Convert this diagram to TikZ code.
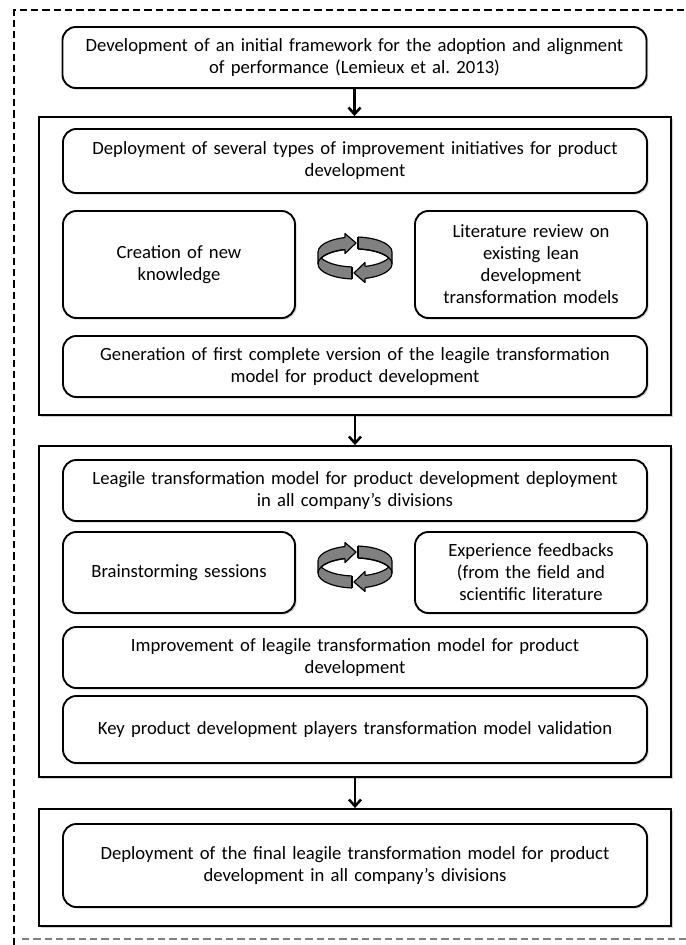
\documentclass[tikz,border=0pt]{standalone}
\usepackage{fontspec}
\setmainfont{Carlito}
\usetikzlibrary{arrows.meta,shadows}

\tikzset{
  stage/.style={draw, line width=1.4pt, rounded corners=10pt, fill=white, align=center, inner sep=0pt,
    font=\fontsize{14}{16.5}\selectfont,
    drop shadow={shadow xshift=1.2pt, shadow yshift=-1.2pt, opacity=0.3, fill=black!60}},
  wide/.style={stage, minimum width=438pt, text width=425pt},
  side/.style={stage, minimum width=174pt, text width=165pt},
  phase/.style={draw, line width=1.4pt, minimum width=474pt, inner sep=0pt,
    drop shadow={shadow xshift=1.2pt, shadow yshift=-1.2pt, opacity=0.3, fill=black!60}, fill=white},
  flow/.style={line width=1.9pt, -{Straight Barb[length=5pt,width=9pt]}},
  frame/.style={line width=1.1pt, dash pattern=on 5.5pt off 3pt},
  loopicon/.pic={
    \begin{scope}[yscale=-1, line width=0.9pt]
      % band
      \filldraw[fill=black!50] (37,6) arc[start angle=0, end angle=180, x radius=37, y radius=15] -- (-37,-6)
        arc[start angle=180, end angle=360, x radius=37, y radius=15] -- cycle;
      % hole
      \begin{scope}
        \clip (0,-6) ellipse [x radius=37, y radius=15];
        \fill[white] (0,6) ellipse [x radius=37, y radius=15];
        \draw (0,6) ellipse [x radius=37, y radius=15];
      \end{scope}
      \begin{scope}
        \clip (0,6) ellipse [x radius=37, y radius=15];
        \draw (0,-6) ellipse [x radius=37, y radius=15];
      \end{scope}
      \draw (-37,6) arc[start angle=180, end angle=360, x radius=37, y radius=15];
      % arrow heads
      \foreach \r in {0,180}{
        \begin{scope}[rotate=\r]
          \fill[white] (-3,7.6) rectangle (10,22.3);
          \draw (-3,8.95) -- (-3,20.95);
          \fill[black!50] (10,24.44) -- (-1,15) -- (10,4.44) -- cycle;
          \draw[line join=round] (10,20.44) -- (10,24.44) -- (-1,15) -- (10,4.44) -- (10,8.44);
        \end{scope}
      }
    \end{scope}
  }
}

\begin{document}
\begin{tikzpicture}[x=0.75pt,y=0.75pt,yscale=-1]
\useasboundingbox (0,0) rectangle (685,945);

% Dashed frame
\draw[frame] (14,945) -- (14,10) -- (690,10);
\draw[frame, draw=gray] (22,939) -- (690,939);

% Phase boxes
\node[phase, minimum height=223.5pt] (ph1) at (355,266) {};
\node[phase, minimum height=248.25pt] (ph2) at (355,611.5) {};
\node[phase, minimum height=87.75pt] (ph3) at (355,867.5) {};

% Start
\node[wide, minimum height=45.75pt] (start) at (354.5,57.5) {Development of an initial framework for the adoption and alignment\\of performance (Lemieux et al.\ 2013)};

% Phase 1
\node[wide, minimum height=48pt] (deploy) at (355,161) {Deployment of several types of improvement initiatives for product\\development};
\node[side, minimum height=80.25pt] (create) at (179,264.5) {Creation of new\\knowledge};
\node[side, minimum height=80.25pt] (review) at (531,264.5) {Literature review on\\existing lean\\development\\transformation models};
\pic (loopA) at (355,258) {loopicon};
\node[wide, minimum height=45.75pt] (firstver) at (355,366.5) {Generation of first complete version of the leagile transformation\\model for product development};

% Phase 2
\node[wide, minimum height=45.75pt] (spread) at (355,490.5) {Leagile transformation model for product development deployment\\in all company’s divisions};
\node[side, minimum height=60.75pt] (brain) at (179,572.5) {Brainstorming sessions};
\node[side, minimum height=60.75pt] (feedback) at (531,572.5) {Experience feedbacks\\(from the field and\\scientific literature};
\pic (loopB) at (355,567) {loopicon};
\node[wide, minimum height=45.75pt] (improve) at (355,657.5) {Improvement of leagile transformation model for product\\development};
\node[wide, minimum height=50.25pt] (validate) at (355,729.5) {Key product development players transformation model validation};

% Phase 3
\node[wide, minimum height=62.25pt] (final) at (355,865.5) {Deployment of the final leagile transformation model for product\\development in all company’s divisions};

% Arrows
\draw[flow] (start.south) -- (start.south |- ph1.north);
\draw[flow] (ph1.south) -- (ph2.north);
\draw[flow] (ph2.south) -- (ph3.north);

\end{tikzpicture}
\end{document}
